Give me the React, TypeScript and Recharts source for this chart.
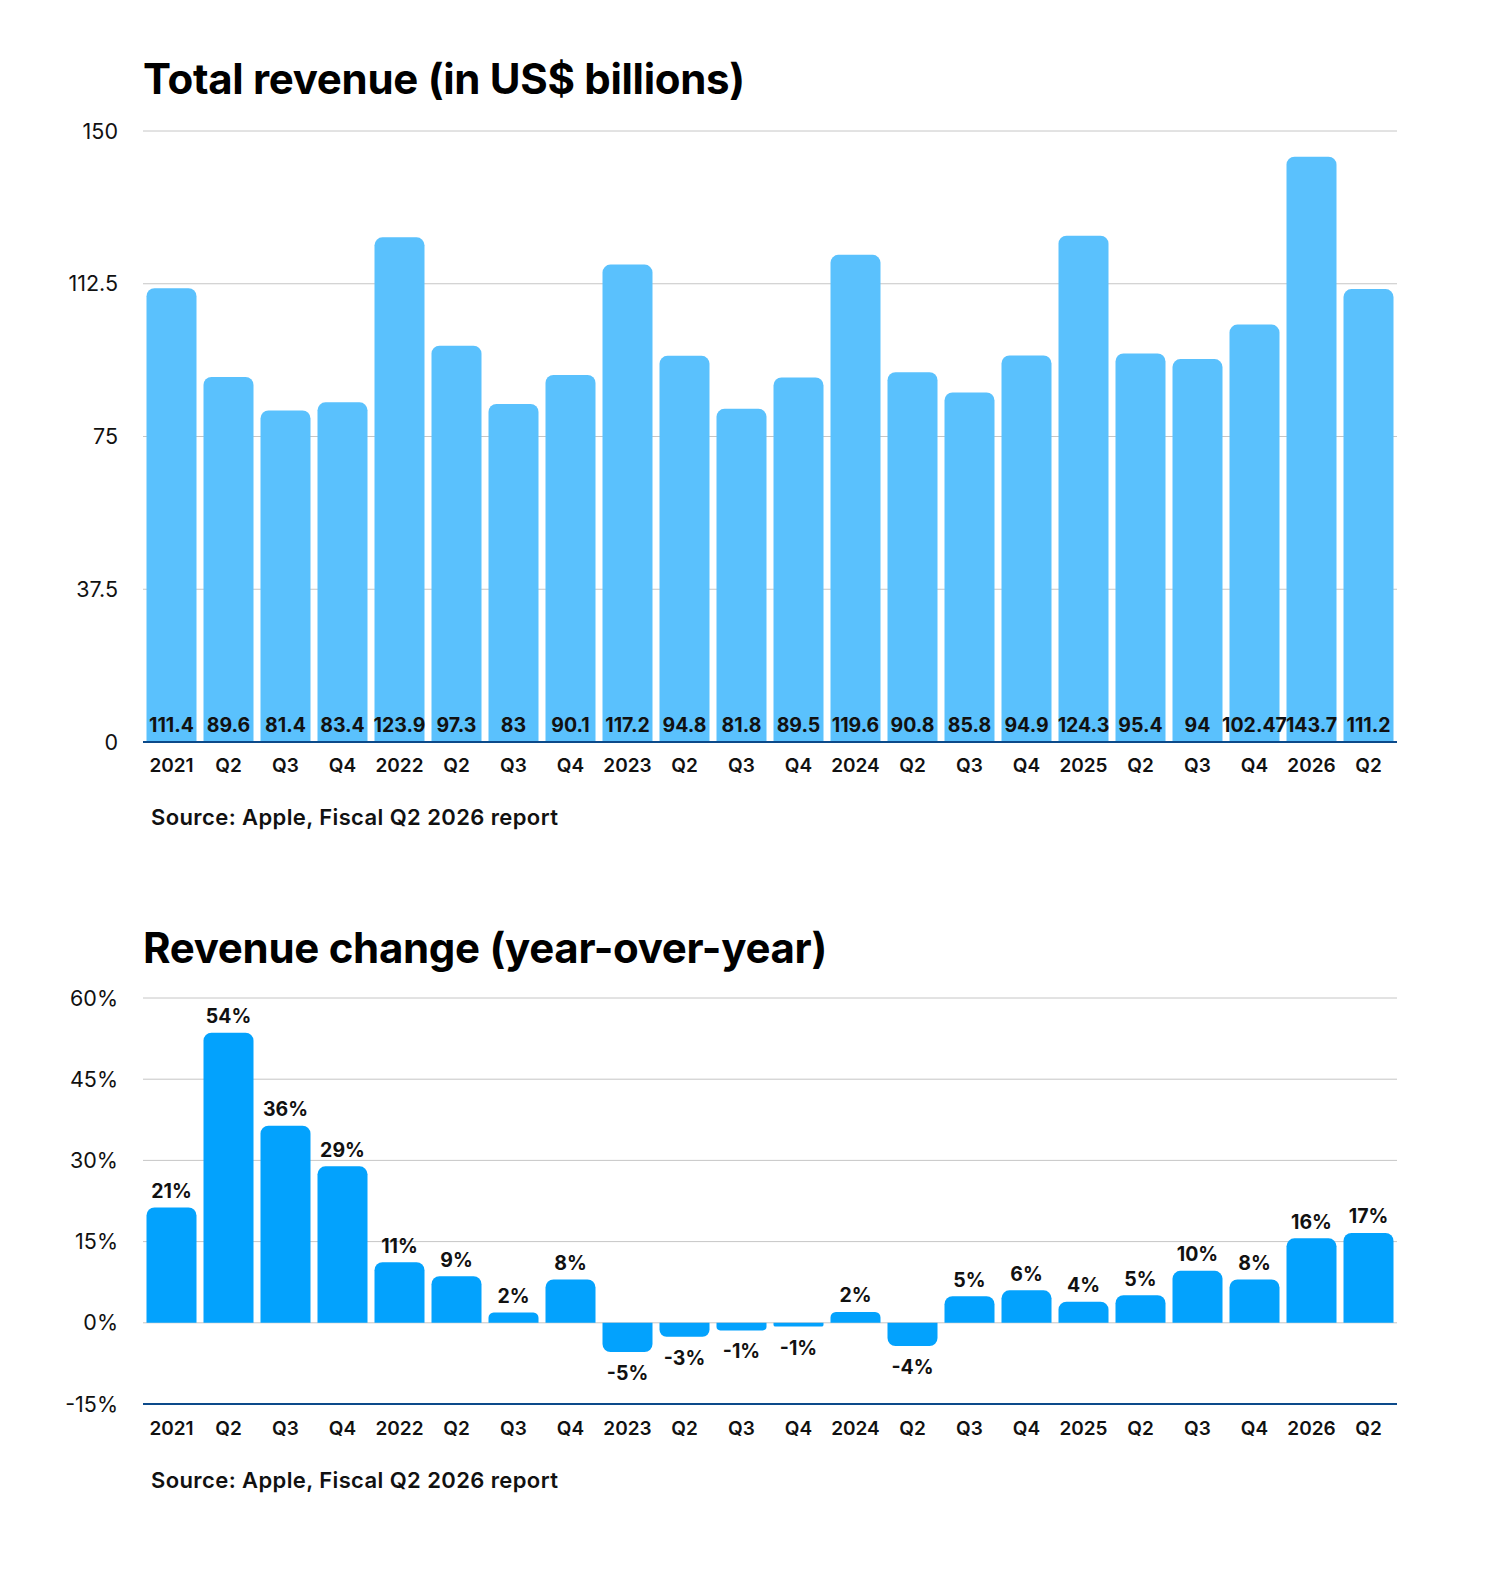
import { BarChart, Bar, XAxis, YAxis, CartesianGrid, LabelList } from "recharts";

const PERIODS = [
  "2021-Q1", "2021-Q2", "2021-Q3", "2021-Q4",
  "2022-Q1", "2022-Q2", "2022-Q3", "2022-Q4",
  "2023-Q1", "2023-Q2", "2023-Q3", "2023-Q4",
  "2024-Q1", "2024-Q2", "2024-Q3", "2024-Q4",
  "2025-Q1", "2025-Q2", "2025-Q3", "2025-Q4",
  "2026-Q1", "2026-Q2",
];

const PERIOD_LABELS = [
  "2021", "Q2", "Q3", "Q4",
  "2022", "Q2", "Q3", "Q4",
  "2023", "Q2", "Q3", "Q4",
  "2024", "Q2", "Q3", "Q4",
  "2025", "Q2", "Q3", "Q4",
  "2026", "Q2",
];

// US$ billions
const REVENUE = [
  111.4, 89.6, 81.4, 83.4,
  123.9, 97.3, 83, 90.1,
  117.2, 94.8, 81.8, 89.5,
  119.6, 90.8, 85.8, 94.9,
  124.3, 95.4, 94, 102.47,
  143.7, 111.2,
];

// year-over-year change, %
const YOY_CHANGE = [
  21.3, 53.6, 36.4, 28.9,
  11.2, 8.6, 1.9, 8.0,
  -5.4, -2.6, -1.4, -0.7,
  2.0, -4.3, 4.9, 6.0,
  3.9, 5.1, 9.6, 8.0,
  15.6, 16.6,
];

const REVENUE_TICKS = [0, 37.5, 75, 112.5, 150];
const CHANGE_TICKS = [-15, 0, 15, 30, 45, 60];

const FONT = "Inter, 'Noto Sans', sans-serif";
const AXIS_BLUE = "#0c4a8a";
const GRID = "#c6c6c6";

const revenueData = PERIODS.map((p, i) => ({ period: p, revenue: REVENUE[i] }));
const changeData = PERIODS.map((p, i) => ({ period: p, change: YOY_CHANGE[i] }));

const titleStyle: React.CSSProperties = {
  position: "absolute",
  left: 143,
  fontFamily: FONT,
  fontWeight: 700,
  fontSize: 42,
  letterSpacing: -0.3,
  color: "#000",
  lineHeight: "50px",
  whiteSpace: "nowrap",
};

const sourceStyle: React.CSSProperties = {
  position: "absolute",
  left: 151,
  fontFamily: FONT,
  fontWeight: 600,
  fontSize: 22,
  letterSpacing: 0.4,
  color: "#111",
  lineHeight: "26px",
  whiteSpace: "nowrap",
};

const xTick = { fontSize: 19, fontWeight: 600, fill: "#111", fontFamily: FONT };
const yTick = { fontSize: 21.5, fontWeight: 400, fill: "#111", fontFamily: FONT };
const valueStyle = { fontSize: 19.5, fontWeight: 700, fill: "#111", fontFamily: FONT };

function ChangeLabel(props: any) {
  const { x, y, width, height, value } = props;
  const top = Math.min(y, y + height);
  const bottom = Math.max(y, y + height);
  const cx = x + width / 2;
  const text = `${Math.round(value)}%`;
  if (value >= 0) {
    return (
      <text x={cx} y={top - 9.5} textAnchor="middle" style={valueStyle}>
        {text}
      </text>
    );
  }
  return (
    <text x={cx} y={bottom + 28} textAnchor="middle" style={valueStyle}>
      {text}
    </text>
  );
}

function RevenueChart() {
  return (
    <BarChart
      width={1502}
      height={800}
      data={revenueData}
      margin={{ top: 131, right: 105, bottom: 18, left: 63 }}
      barCategoryGap={3.5}
    >
      <CartesianGrid vertical={false} stroke={GRID} />
      <XAxis
        dataKey="period"
        interval={0}
        height={40}
        tickLine={false}
        tickSize={0}
        tickMargin={17}
        axisLine={{ stroke: AXIS_BLUE, strokeWidth: 2 }}
        tick={xTick}
        tickFormatter={(_v, i) => PERIOD_LABELS[i]}
      />
      <YAxis
        width={80}
        domain={[0, 150]}
        ticks={REVENUE_TICKS}
        axisLine={false}
        tickLine={false}
        tickSize={0}
        tickMargin={25}
        tick={yTick}
      />
      <Bar dataKey="revenue" fill="#5ac1fd" radius={[8, 8, 0, 0]} isAnimationActive={false}>
        <LabelList dataKey="revenue" position="insideBottom" offset={10} style={valueStyle} />
      </Bar>
    </BarChart>
  );
}

function ChangeChart() {
  return (
    <BarChart
      width={1502}
      height={560}
      data={changeData}
      margin={{ top: 98, right: 105, bottom: 16, left: 63 }}
      barCategoryGap={3.5}
    >
      <CartesianGrid vertical={false} stroke={GRID} />
      <XAxis
        dataKey="period"
        interval={0}
        height={40}
        tickLine={false}
        tickSize={0}
        tickMargin={18}
        axisLine={{ stroke: AXIS_BLUE, strokeWidth: 2 }}
        tick={xTick}
        tickFormatter={(_v, i) => PERIOD_LABELS[i]}
      />
      <YAxis
        width={80}
        domain={[-15, 60]}
        ticks={CHANGE_TICKS}
        axisLine={false}
        tickLine={false}
        tickSize={0}
        tickMargin={25}
        tick={yTick}
        tickFormatter={(v) => `${v}%`}
      />
      <Bar dataKey="change" fill="#03a2fd" radius={[8, 8, 0, 0]} isAnimationActive={false}>
        <LabelList dataKey="change" content={ChangeLabel} />
      </Bar>
    </BarChart>
  );
}

export default function App() {
  return (
    <div style={{ position: "absolute", left: 0, top: 0, width: 1502, height: 1581, background: "#fff" }}>
      <div style={{ ...titleStyle, top: 54 }}>Total revenue (in US$ billions)</div>
      <div style={{ position: "absolute", left: 0, top: 0 }}>
        <RevenueChart />
      </div>
      <div style={{ ...sourceStyle, top: 804 }}>Source: Apple, Fiscal Q2 2026 report</div>

      <div style={{ ...titleStyle, top: 923 }}>Revenue change (year-over-year)</div>
      <div style={{ position: "absolute", left: 0, top: 900 }}>
        <ChangeChart />
      </div>
      <div style={{ ...sourceStyle, top: 1467 }}>Source: Apple, Fiscal Q2 2026 report</div>
    </div>
  );
}
